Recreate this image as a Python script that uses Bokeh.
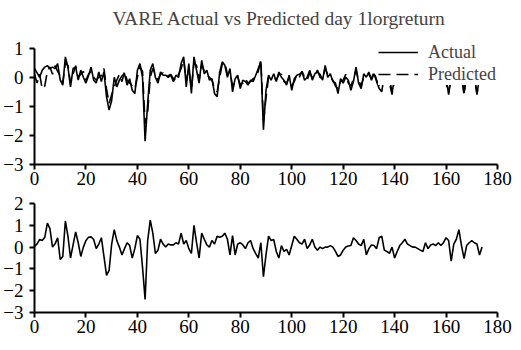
from bokeh.plotting import figure
from bokeh.layouts import column
from bokeh.models import Legend, LegendItem, FixedTicker, Range1d
from bokeh.embed import file_html
from bokeh.resources import INLINE

# ---------------- data ----------------
title_text = "VARE Actual vs Predicted day 1lorgreturn"
x_ticks = [0, 20, 40, 60, 80, 100, 120, 140, 160, 180]
top_y_ticks = [-3, -2, -1, 0, 1]
bottom_y_ticks = [-3, -2, -1, 0, 1, 2]

actual = [
    0.3, 0.15, 0.0, 0.24, 0.35, 0.4, 0.3, 0.35, 0.3, 0.47,
    -0.1, -0.27, 0.7, 0.35, -0.33, 0.3, 0.35, -0.1, 0.24, 0.0,
    -0.2, 0.05, 0.35, -0.1, -0.2, 0.18, -0.15, 0.18, -0.67, -1.13,
    -0.8, 0.0, -0.33, -0.1, 0.05, 0.12, -0.27, -0.05, -0.45, -0.56,
    0.24, 0.47, 0.0, -2.2, -0.9, 0.24, 0.47, 0.0, -0.2, 0.18,
    0.07, 0.07, 0.0, 0.07, -0.15, 0.07, 0.0, 0.47, 0.7, -0.33,
    0.47, -0.56, 0.7, 0.24, -0.2, 0.58, 0.12, 0.24, -0.1, -0.05,
    -0.56, -0.67, 0.18, 0.53, 0.41, 0.0, 0.3, -0.5, -0.05, 0.07,
    -0.39, -0.1, -0.15, -0.27, -0.1, -0.15, 0.07, 0.3, 0.53, -1.8,
    -0.45, 0.07, -0.1, 0.12, -0.15, 0.18, 0.0, -0.1, -0.27, 0.07,
    -0.45, -0.05, 0.07, 0.1, 0.18, -0.1, 0.0, 0.24, -0.1, 0.12,
    0.18, 0.1, -0.1, 0.41, 0.0, 0.12, -0.15, -0.2, -0.56, -0.05,
    -0.2, 0.0, -0.1, -0.45, -0.15, 0.35, -0.2, -0.39, 0.12, 0.0,
    0.18, -0.1, 0.12, -0.15, -0.39, -0.5, 0.1, -0.2, 0.05, -0.55,
    0.0, -0.2, 0.1, 0.0, -0.2, 0.2, 0.05, -0.1, 0.15, -0.25,
    0.0, 0.1, -0.2, 0.2, 0.0, -0.15, 0.1, 0.05, -0.2, 0.15,
    0.0, -0.6, 0.1, 0.2, -0.1, 0.0, 0.1, -0.55, 0.2, 0.05,
    -0.2, 0.1, -0.6, 0.0, 0.05,
]

predicted = [
    0.1, -0.2, 0.1, -0.4, -0.3, 0.2, 0.35, 0.1, 0.4, 0.2,
    0.05, -0.2, 0.5, 0.4, -0.2, 0.1, 0.4, 0.0, 0.1, 0.2,
    -0.1, 0.1, 0.2, 0.0, -0.1, 0.0, 0.05, 0.3, -0.4, -0.9,
    -0.6, -0.33, -0.1, 0.1, -0.15, 0.2, -0.1, -0.2, -0.3, -0.4,
    0.0, 0.35, 0.2, -1.6, -1.2, 0.0, 0.3, 0.1, -0.1, 0.1,
    0.15, 0.0, 0.05, 0.1, -0.05, -0.1, 0.1, 0.3, 0.6, -0.1,
    0.3, -0.4, 0.5, 0.4, -0.1, 0.45, 0.2, 0.1, 0.0, -0.1,
    -0.4, -0.5, 0.0, 0.45, 0.5, 0.1, 0.2, -0.3, -0.15, 0.0,
    -0.25, -0.2, -0.05, -0.2, -0.15, -0.05, 0.0, 0.2, 0.6, -1.5,
    -0.7, 0.0, 0.05, 0.0, -0.1, 0.1, 0.1, -0.15, -0.2, 0.0,
    -0.3, -0.15, 0.1, 0.0, 0.2, 0.0, -0.1, 0.15, 0.0, 0.05,
    0.25, 0.0, -0.05, 0.3, 0.1, 0.0, -0.1, -0.3, -0.4, -0.15,
    -0.1, 0.1, -0.2, -0.3, -0.05, 0.25, -0.1, -0.3, 0.0, 0.1,
    0.1, -0.05, 0.2, -0.1, -0.3, -0.35, 0.0, -0.1, -0.2, -0.6,
    -0.1, -0.1, 0.0, 0.1, -0.1, 0.1, 0.0, -0.05, 0.1, -0.1,
    0.05, 0.0, -0.1, 0.1, 0.05, -0.1, 0.0, 0.1, -0.1, 0.0,
    -0.2, -0.55, 0.0, 0.1, 0.0, -0.1, 0.0, -0.6, 0.1, 0.0,
    -0.1, 0.0, -0.55, -0.1, 0.0,
]

lower = [
    0.03, 0.15, 0.35, 0.3, 0.45, 1.1, 0.85, 0.0, 0.15, 0.43,
    -0.57, -0.43, 1.2, 0.5, -0.5, 0.1, 0.7, 0.2, -0.43, 0.0,
    0.3, 0.45, 0.47, 0.35, -0.07, 0.14, 0.43, -0.43, -1.3, -1.07,
    0.14, 0.8, 0.3, 0.0, -0.36, -0.07, 0.2, 0.07, -0.5, -0.07,
    0.53, 0.36, -0.93, -2.4, 0.3, 1.24, 0.64, -0.29, -0.14, 0.36,
    0.14, 0.0, 0.14, 0.1, 0.1, 0.2, 0.14, 0.64, 0.14, 0.3,
    -0.07, -0.29, 1.0, 0.2, -0.5, 0.64, 0.36, 0.1, 0.0, 0.3,
    0.14, 0.5, 0.45, 0.5, 0.64, 0.36, -0.36, 0.53, -0.36, 0.14,
    0.2, 0.1, -0.07, 0.2, 0.3, -0.07, -0.3, -0.5, 0.2, -1.36,
    -0.36, 0.5, 0.3, 0.35, -0.2, -0.5, 0.07, -0.2, -0.1, -0.36,
    0.07, 0.5, 0.36, 0.2, 0.14, 0.36, -0.07, 0.1, 0.36, 0.0,
    -0.14, 0.0, -0.07, 0.0, 0.0, 0.07, 0.0, -0.2, -0.43, -0.36,
    -0.14, 0.0, 0.05, 0.07, 0.43, 0.3, 0.14, 0.07, 0.36, -0.36,
    -0.07, 0.1, 0.07, -0.07, 0.43, 0.5, -0.14, -0.2, -0.29, 0.0,
    -0.5, -0.2, 0.07, 0.2, 0.36, 0.14, 0.07, 0.0, 0.0, -0.07,
    -0.14, -0.2, 0.2, -0.07, 0.1, 0.14, 0.07, 0.2, 0.07, 0.2,
    0.43, 0.3, -0.64, 0.14, 0.36, 0.8, 0.07, -0.53, 0.07, 0.2,
    0.3, 0.2, 0.14, -0.36, 0.0,
]

days = list(range(len(actual)))
days_lower = list(range(len(lower)))

FONT = "Liberation Serif"
FRAME_W = 463


def style(p, yticks):
    p.xgrid.visible = False
    p.ygrid.visible = False
    p.outline_line_color = None
    p.background_fill_color = "white"
    p.border_fill_color = "white"
    p.xaxis.ticker = FixedTicker(ticks=x_ticks)
    p.yaxis.ticker = FixedTicker(ticks=yticks)
    p.yaxis.bounds = (yticks[0], yticks[-1])
    for ax in (p.xaxis[0], p.yaxis[0]):
        ax.axis_line_color = "black"
        ax.axis_line_width = 2
        ax.major_tick_line_color = "black"
        ax.major_tick_line_width = 2
        ax.major_tick_out = 5
        ax.major_tick_in = 0
        ax.minor_tick_line_color = None
        ax.major_label_text_font = FONT
        ax.major_label_text_font_size = "19px"
        ax.major_label_text_color = "black"
    p.xaxis.major_label_standoff = 2
    p.yaxis.major_label_standoff = 6


p1 = figure(frame_width=FRAME_W, frame_height=130, x_range=Range1d(0, 180), y_range=Range1d(-3, 1.47),
            output_backend="svg", toolbar_location=None,
            min_border_left=27, min_border_right=15, min_border_top=28, min_border_bottom=28)
p1.title.text = title_text
p1.title.text_font = FONT
p1.title.text_font_size = "19.5px"
p1.title.text_font_style = "normal"
p1.title.align = "left"
p1.title.offset = 78
p1.title.standoff = 11
style(p1, top_y_ticks)

r_act = p1.line(days, actual, line_color="black", line_width=1.6)
r_pred = p1.line(days, predicted, line_color="black", line_width=1.6, line_dash="12 6")

legend = Legend(items=[LegendItem(label="Actual", renderers=[r_act]),
                       LegendItem(label="Predicted", renderers=[r_pred])],
                location=(344, 79), orientation="vertical",
                glyph_width=40, glyph_height=22, label_height=22, spacing=0,
                padding=2, margin=0, label_standoff=10,
                label_text_font=FONT, label_text_font_size="18px",
                background_fill_color="white", background_fill_alpha=1.0,
                border_line_color=None)
p1.add_layout(legend)

p2 = figure(frame_width=FRAME_W, frame_height=109, x_range=Range1d(0, 180), y_range=Range1d(-3, 2),
            output_backend="svg", toolbar_location=None,
            min_border_left=27, min_border_right=15, min_border_top=11, min_border_bottom=28)
style(p2, bottom_y_ticks)
p2.line(days_lower, lower, line_color="black", line_width=1.6)

layout = column(p1, p2, spacing=0)
open("out.html", "w").write(file_html(layout, INLINE))
